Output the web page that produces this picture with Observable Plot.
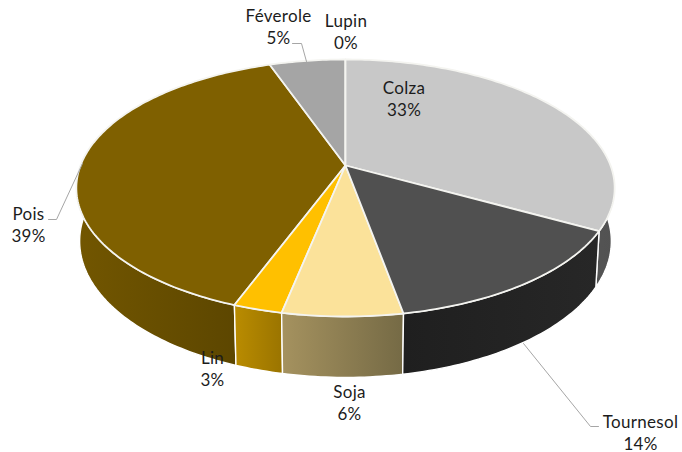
<!DOCTYPE html>
<html>
<head>
<meta charset="utf-8">
<style>html,body{margin:0;padding:0;background:#fff}svg{display:block}</style>
<script src="https://cdn.jsdelivr.net/npm/d3@7"></script>
<script src="https://cdn.jsdelivr.net/npm/@observablehq/plot@0.6"></script>
</head>
<body>
<script>
// Data
const categories = ["Colza", "Tournesol", "Soja", "Lin", "Pois", "Féverole", "Lupin"];
const shares = [33, 14.1, 6.1, 2.5, 38.9, 5.4, 0];
const topColors = ["#c8c8c8", "#505050", "#fbe29a", "#ffc000", "#7f6000", "#a5a5a5", "#d9d9d9"];
const wallStart = ["#666666", "#1f1f1f", "#a5925f", "#ba8c00", "#725600", "#999999", "#999999"];
const wallEnd = ["#525252", "#272727", "#756a45", "#9a7400", "#584300", "#999999", "#999999"];

// Perspective of the disc
const cx = 345, cy = 165, radius = 265, persp = -0.175, tilt = 95.7, depthY = 54.8, depthW = 0.012;
const project = (deg, z) => {
  const a = deg * Math.PI / 180, s = Math.sin(a), t = -Math.cos(a);
  const w = 1 + persp * t + depthW * z;
  return {x: cx + radius * s / w, y: (cy + tilt * t + depthY * z) / w};
};
const arc = (a0, a1, z) => {
  const n = Math.max(1, Math.ceil(Math.abs(a1 - a0)));
  return d3.range(n + 1).map(i => project(a0 + (a1 - a0) * i / n, z));
};

let run = 0;
const slices = categories.map((name, i) => {
  const a0 = run * 3.6; run += shares[i];
  return {name, i, a0, a1: run * 3.6};
});
const topPoly = s => {
  const apex = {x: cx, y: cy};
  return [apex, ...arc(s.a0, s.a1, 0), apex];
};
const wallPoly = s => {
  const top = arc(s.a0, s.a1, 0), bottom = arc(s.a0, s.a1, 1).reverse();
  return [...top, ...bottom, top[0]];
};

// Back to front, the front walls are painted last
const wallOrder = [4, 5, 6, 0, 3, 2, 1];

// Label placement
const labels = [
  {i: 0, x: 403.5, y: 97},
  {i: 1, x: 640, y: 431},
  {i: 2, x: 349, y: 401},
  {i: 3, x: 212, y: 367.5},
  {i: 4, x: 28, y: 223},
  {i: 5, x: 278, y: 25.5},
  {i: 6, x: 345.5, y: 30.5}
];
const leaders = [
  [{x: 292, y: 43}, {x: 301, y: 43}, {x: 306, y: 61}],
  [{x: 48, y: 219}, {x: 56, y: 219}, {x: 82, y: 163}],
  [{x: 598, y: 426}, {x: 590, y: 426}, {x: 523, y: 343}]
];

const defs = () => {
  const d = d3.create("svg:defs");
  slices.forEach(s => {
    const g = d.append("linearGradient").attr("id", `wall${s.i}`);
    g.append("stop").attr("offset", 0).attr("stop-color", wallStart[s.i]);
    g.append("stop").attr("offset", 1).attr("stop-color", wallEnd[s.i]);
  });
  return d.node();
};

const chart = Plot.plot({
  width: 682, height: 452,
  marginTop: 0, marginRight: 0, marginBottom: 0, marginLeft: 0,
  x: {domain: [0, 682], range: [0, 682], axis: null},
  y: {domain: [0, 452], range: [0, 452], axis: null},
  style: {background: "#fff", letterSpacing: "0.3px"},
  marks: [
    defs,
    ...wallOrder.map(i => Plot.line(wallPoly(slices[i]), {
      x: "x", y: "y", fill: `url(#wall${i})`, stroke: "#fff", strokeWidth: 1.4
    })),
    ...wallOrder.map(i => Plot.line(topPoly(slices[i]), {
      x: "x", y: "y", fill: topColors[i], stroke: "#f4f4f0", strokeWidth: 1.8
    })),
    ...leaders.map(l => Plot.line(l, {x: "x", y: "y", stroke: "#a6a6a6", strokeWidth: 1})),
    Plot.text(labels, {
      x: "x", y: "y",
      text: d => `${categories[d.i]}\n${Math.round(shares[d.i])}%`,
      fontFamily: "Lato", fontSize: 17, lineHeight: 1.3, fill: "#1c1c1c", textAnchor: "middle"
    })
  ]
});
document.body.appendChild(chart);
</script>
</body>
</html>
